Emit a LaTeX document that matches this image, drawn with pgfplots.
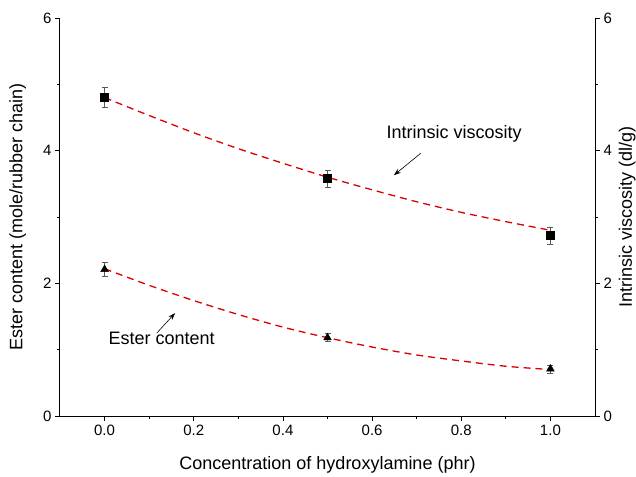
\documentclass[border=0pt]{standalone}
\usepackage{pgfplots}
\pgfplotsset{compat=1.18}
\usetikzlibrary{arrows.meta}
\usepackage{fontspec}
\setmainfont{Liberation Sans}
\begin{document}
\begin{tikzpicture}
\pgfplotsset{
  common/.style={
    scale only axis, width=535pt, height=398pt,
    at={(0,0)}, anchor=south west,
    xmin=-0.1, xmax=1.1, ymin=0, ymax=6,
    tick align=outside, major tick length=5pt, minor tick length=3pt,
    ytick={0,2,4,6}, minor y tick num=1,
    /pgf/number format/assume math mode=true,
    tick label style={font=\fontsize{15}{18}\selectfont},
    label style={font=\fontsize{18}{21}\selectfont},
    axis line style={line width=1pt}, every tick/.style={line width=0.8pt, black},
  }
}
\begin{axis}[common,
  axis x line*=bottom, axis y line*=left,
  xtick={0,0.2,0.4,0.6,0.8,1.0}, minor x tick num=1,
  xticklabels={0.0,0.2,0.4,0.6,0.8,1.0},
  xlabel={Concentration of hydroxylamine (phr)},
  ylabel={Ester content (mole/rubber chain)},
  xlabel style={at={(axis description cs:0.5,-0.123)}, anchor=center},
  ylabel style={at={(axis description cs:-0.079,0.5)}, anchor=center, rotate=0},
  clip=false]
% Intrinsic viscosity (squares)
\addplot[only marks, mark=square*, mark size=4pt, black,
  error bars/.cd, y dir=both, y explicit,
  error bar style={line width=0.5pt, gray!70!black},
  error mark options={rotate=90, mark size=3pt, line width=0.5pt, gray!70!black}]
  coordinates {(0,4.81) +- (0,0.15) (0.5,3.58) +- (0,0.13) (1.0,2.72) +- (0,0.13)};
% Ester content (triangles)
\addplot[only marks, mark=triangle*, mark size=4.5pt, black,
  error bars/.cd, y dir=both, y explicit,
  error bar style={line width=0.5pt, gray!70!black},
  error mark options={rotate=90, mark size=3pt, line width=0.5pt, gray!70!black}]
  coordinates {(0,2.21) +- (0,0.11) (0.5,1.18) +- (0,0.06) (1.0,0.71) +- (0,0.06)};
% fitted curves
\addplot[red!85!black, line width=1.3pt, dash pattern=on 7pt off 5pt, smooth]
  coordinates {(0,4.80) (0.1,4.53) (0.2,4.27) (0.3,4.03) (0.4,3.81) (0.5,3.60)
    (0.6,3.41) (0.7,3.23) (0.8,3.07) (0.9,2.93) (1.0,2.80)};
\addplot[red!85!black, line width=1.3pt, dash pattern=on 7pt off 5pt, smooth]
  coordinates {(0,2.22) (0.1,1.97) (0.2,1.74) (0.3,1.53) (0.4,1.34) (0.5,1.18)
    (0.6,1.04) (0.7,0.92) (0.8,0.83) (0.9,0.75) (1.0,0.70)};
\node[font=\fontsize{18}{21}\selectfont] at (axis cs:0.784,4.26) {Intrinsic viscosity};
\draw[-{Stealth[length=7pt,width=5pt]}, line width=0.6pt] (axis cs:0.709,3.96) -- (axis cs:0.649,3.63);
\node[font=\fontsize{18}{21}\selectfont] at (axis cs:0.128,1.17) {Ester content};
\draw[-{Stealth[length=7pt,width=5pt]}, line width=0.6pt] (axis cs:0.117,1.25) -- (axis cs:0.158,1.55);
\end{axis}
\begin{axis}[common,
  axis x line=none, axis y line*=right,
  ylabel={Intrinsic viscosity (dl/g)},
  ylabel style={at={(axis description cs:1.06,0.5)}, anchor=center, rotate=0}]
\addplot[draw=none] coordinates {(0,0)};
\end{axis}
\pgfresetboundingbox
\path[use as bounding box] (-60pt,-60pt) rectangle (576pt,416pt);
\end{tikzpicture}
\end{document}
